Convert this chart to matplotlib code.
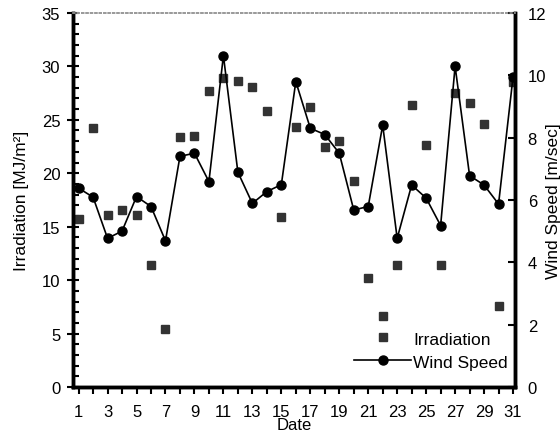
import numpy as np
import matplotlib
matplotlib.use('Agg')
import matplotlib.pyplot as plt
from matplotlib.ticker import MultipleLocator

plt.rcParams['font.family'] = ['Liberation Sans Narrow', 'DejaVu Sans Condensed',
                               'Liberation Sans', 'DejaVu Sans']

# daily values
days = list(range(1, 32))
irradiation = [15.7, 24.2, 16.1, 16.6, 16.1, 11.4, 5.4, 23.4, 23.5, 27.7,
               28.9, 28.6, 28.1, 25.8, 15.9, 24.3, 26.2, 22.5, 23.0, 19.3,
               10.2, 6.6, 11.4, 26.4, 22.6, 11.4, 27.5, 26.6, 24.6, 7.6, 28.5]
wind_speed = [6.38, 6.09, 4.77, 5.0, 6.11, 5.79, 4.69, 7.40, 7.50, 6.59,
              10.63, 6.89, 5.89, 6.27, 6.49, 9.80, 8.30, 8.10, 7.50, 5.68,
              5.79, 8.40, 4.77, 6.48, 6.06, 5.18, 10.29, 6.78, 6.48, 5.87, 9.94]
tick_days = list(range(1, 32, 2))

fig = plt.figure(figsize=(5.6, 4.35), dpi=100)
ax = fig.add_axes([0.130, 0.108, 0.790, 0.860])
ax2 = ax.twinx()

sq, = ax.plot(days, irradiation, 's', color='#333333', markersize=6,
              linestyle='none', label='Irradiation')
ln, = ax2.plot(days, wind_speed, '-o', color='black', markersize=6.5,
               linewidth=1.2, label='Wind Speed')

ax.set_xlim(0.6, 31.15)
ax.set_ylim(0, 35)
ax2.set_ylim(0, 12)

ax.set_xticks(tick_days)
ax.xaxis.set_minor_locator(MultipleLocator(1))
ax.yaxis.set_major_locator(MultipleLocator(5))
ax.yaxis.set_minor_locator(MultipleLocator(1))
ax2.yaxis.set_major_locator(MultipleLocator(2))

ax.tick_params(axis='x', which='both', direction='out', length=5, width=1.5,
               labelsize=12, pad=7)
ax.tick_params(axis='y', which='major', direction='inout', length=8, width=1.5,
               labelsize=12, pad=5)
ax.tick_params(axis='y', which='minor', direction='in', length=4, width=1.5)
ax2.tick_params(axis='y', which='major', direction='in', length=5, width=1.5,
                labelsize=12, pad=9)

for a in (ax, ax2):
    for side in ('left', 'right', 'bottom'):
        a.spines[side].set_linewidth(2.5)
    a.spines['top'].set_color('#999999')
    a.spines['top'].set_linestyle(':')
    a.spines['top'].set_linewidth(1.2)

ax.set_xlabel('Date', fontsize=12, labelpad=-1)
ax.set_ylabel('Irradiation [MJ/m²]', fontsize=12.5, labelpad=9)
ax2.set_ylabel('Wind Speed [m/sec]', fontsize=12.5, labelpad=0)

ax.legend([sq, ln], ['Irradiation', 'Wind Speed'], frameon=False,
          loc='lower left', bbox_to_anchor=(0.60, 0.005), handlelength=3.3,
          fontsize=12.5, handletextpad=0.1, labelspacing=0.45)

fig.savefig('out.png', dpi=100)
